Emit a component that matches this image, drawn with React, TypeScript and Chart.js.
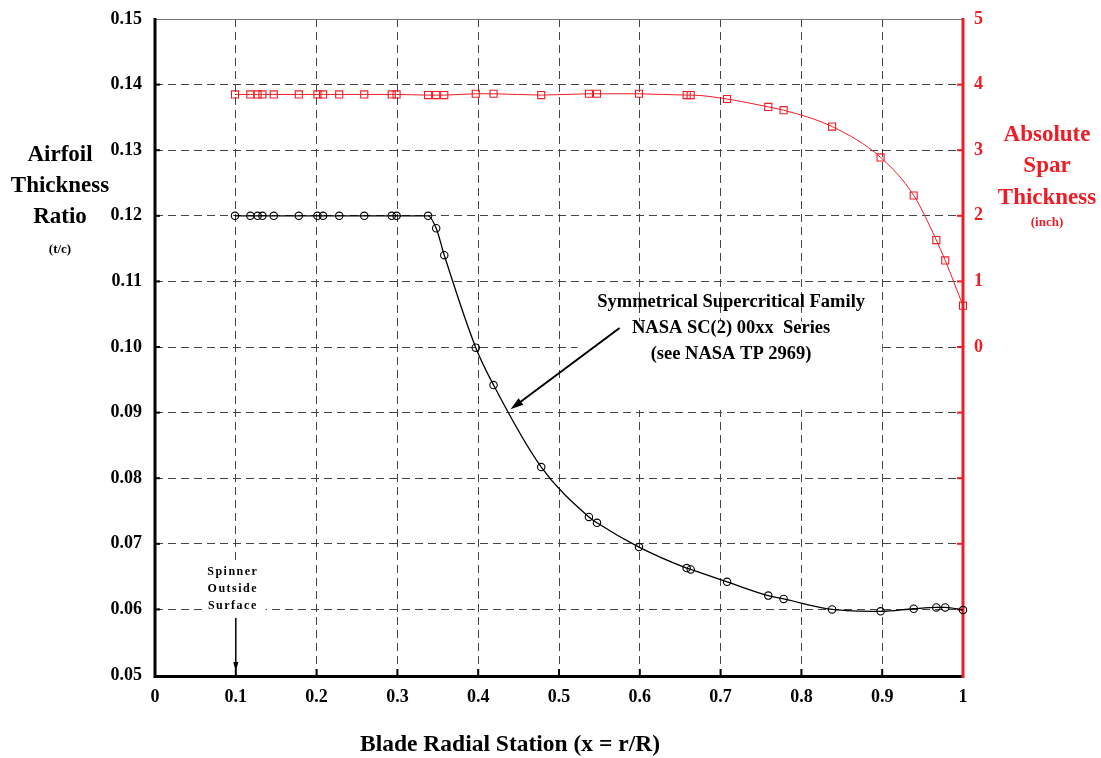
import React, { useEffect, useRef } from "react";
import { Chart, registerables } from "chart.js";

Chart.register(...registerables);

// Blade radial stations (x = r/R)
const stations = [0.099, 0.118, 0.127, 0.133, 0.147, 0.178, 0.201, 0.208, 0.228, 0.259, 0.293, 0.299, 0.338, 0.348, 0.358, 0.397, 0.419, 0.478, 0.537, 0.547, 0.599, 0.658, 0.663, 0.708, 0.759, 0.778, 0.838, 0.898, 0.939, 0.967, 0.978, 1.0];
// Airfoil thickness ratio t/c (left axis)
const thicknessRatio = [0.12, 0.12, 0.12, 0.12, 0.12, 0.12, 0.12, 0.12, 0.12, 0.12, 0.12, 0.12, 0.12, 0.1181, 0.114, 0.0999, 0.0942, 0.0817, 0.0741, 0.0732, 0.0695, 0.0663, 0.0661, 0.0642, 0.0621, 0.0616, 0.06, 0.0597, 0.0601, 0.0603, 0.0603, 0.0599];
// Absolute spar thickness, inch (right axis)
const sparThickness = [3.85, 3.85, 3.85, 3.85, 3.85, 3.85, 3.85, 3.85, 3.85, 3.85, 3.85, 3.85, 3.84, 3.84, 3.84, 3.86, 3.86, 3.84, 3.86, 3.86, 3.86, 3.84, 3.84, 3.78, 3.66, 3.61, 3.36, 2.89, 2.31, 1.63, 1.32, 0.63];

const leftTitle = ["Airfoil", "Thickness", "Ratio"];
const leftSub = "(t/c)";
const rightTitle = ["Absolute", "Spar", "Thickness"];
const rightSub = "(inch)";
const xTitle = "Blade Radial Station (x = r/R)";
const noteLines = ["Symmetrical Supercritical Family", "NASA SC(2) 00xx  Series", "(see NASA TP 2969)"];
const spinnerLines = ["Spinner", "Outside", "Surface"];

const RED = "#ee1c25";
const FONT = "'Times New Roman', 'Liberation Serif', serif";

function arrowHead(ctx: CanvasRenderingContext2D, x1: number, y1: number, x2: number, y2: number, len: number, half: number) {
  const a = Math.atan2(y2 - y1, x2 - x1);
  ctx.beginPath();
  ctx.moveTo(x2, y2);
  ctx.lineTo(x2 - len * Math.cos(a) + half * Math.sin(a), y2 - len * Math.sin(a) - half * Math.cos(a));
  ctx.lineTo(x2 - len * Math.cos(a) - half * Math.sin(a), y2 - len * Math.sin(a) + half * Math.cos(a));
  ctx.closePath();
  ctx.fill();
}

const decorPlugin = {
  id: "decor",
  beforeDatasetsDraw(chart: any) {
    const { ctx, chartArea: ca, scales } = chart;
    const xs = scales.x, yl = scales.y, yr = scales.y2;
    ctx.save();
    // white boxes behind the annotations
    ctx.fillStyle = "#fff";
    const bx1 = xs.getPixelForValue(0.523), bx2 = xs.getPixelForValue(0.9);
    const by1 = yl.getPixelForValue(0.1039), by2 = yl.getPixelForValue(0.0904);
    ctx.fillRect(bx1, by1, bx2 - bx1, by2 - by1);
    const sx1 = xs.getPixelForValue(0.058), sx2 = xs.getPixelForValue(0.137);
    const sy1 = yl.getPixelForValue(0.0671), sy2 = yl.getPixelForValue(0.0587);
    ctx.fillRect(sx1, sy1, sx2 - sx1, sy2 - sy1);
    // vertical grid line piece under the spinner arrow
    ctx.fillRect(xs.getPixelForValue(0.1) - 2, sy2, 4, ca.bottom - sy2);
    // top border
    ctx.strokeStyle = "#777";
    ctx.lineWidth = 1;
    ctx.beginPath();
    ctx.moveTo(ca.left, ca.top + 0.5);
    ctx.lineTo(ca.right, ca.top + 0.5);
    ctx.stroke();
    // right red ticks
    ctx.strokeStyle = RED;
    ctx.lineWidth = 2;
    for (let v = -4; v <= 4; v++) {
      const y = yr.getPixelForValue(v);
      ctx.beginPath();
      ctx.moveTo(ca.right - 6, y);
      ctx.lineTo(ca.right, y);
      ctx.stroke();
    }
    // bottom ticks
    ctx.strokeStyle = "#000";
    for (let i = 1; i <= 9; i++) {
      const x = xs.getPixelForValue(i / 10);
      ctx.beginPath();
      ctx.moveTo(x, ca.bottom);
      ctx.lineTo(x, ca.bottom - 6);
      ctx.stroke();
    }
    // left ticks
    for (let i = 6; i <= 14; i++) {
      const y = yl.getPixelForValue(i / 100);
      ctx.beginPath();
      ctx.moveTo(ca.left, y);
      ctx.lineTo(ca.left + 5, y);
      ctx.stroke();
    }
    // axis lines
    ctx.lineWidth = 3;
    ctx.strokeStyle = "#000";
    ctx.beginPath();
    ctx.moveTo(ca.left, ca.top - 1);
    ctx.lineTo(ca.left, ca.bottom + 1.5);
    ctx.lineTo(ca.right, ca.bottom + 1.5);
    ctx.stroke();
    ctx.strokeStyle = RED;
    ctx.beginPath();
    ctx.moveTo(ca.right, ca.top - 1);
    ctx.lineTo(ca.right, ca.bottom + 3);
    ctx.stroke();
    ctx.restore();
  },
  afterDraw(chart: any) {
    const { ctx, chartArea: ca, scales } = chart;
    const xs = scales.x, yl = scales.y;
    ctx.save();
    ctx.textAlign = "center";
    ctx.textBaseline = "middle";
    // left title
    ctx.fillStyle = "#000";
    ctx.font = `bold 23px ${FONT}`;
    leftTitle.forEach((t, i) => ctx.fillText(t, 60, 155 + i * 31));
    ctx.font = `bold 13px ${FONT}`;
    ctx.fillText(leftSub, 60, 250);
    // right title
    ctx.fillStyle = RED;
    ctx.font = `bold 23px ${FONT}`;
    rightTitle.forEach((t, i) => ctx.fillText(t, 1047, 135 + i * 31.5));
    ctx.font = `bold 13px ${FONT}`;
    ctx.fillText(rightSub, 1047, 223);
    // x title
    ctx.fillStyle = "#000";
    ctx.font = `bold 23.5px ${FONT}`;
    ctx.fillText(xTitle, 510, 745);
    // annotation
    ctx.font = `bold 18.5px ${FONT}`;
    const nx = xs.getPixelForValue(0.713);
    noteLines.forEach((t, i) => ctx.fillText(t, nx, yl.getPixelForValue(0.1) - 45 + i * 26));
    // annotation arrow
    ctx.strokeStyle = "#000";
    ctx.fillStyle = "#000";
    ctx.lineWidth = 2;
    const ax1 = xs.getPixelForValue(0.575), ay1 = yl.getPixelForValue(0.1029);
    const ax2 = xs.getPixelForValue(0.44), ay2 = yl.getPixelForValue(0.0905);
    const ang = Math.atan2(ay1 - ay2, ax1 - ax2);
    ctx.beginPath();
    ctx.moveTo(ax1, ay1);
    ctx.lineTo(ax2 + 8 * Math.cos(ang), ay2 + 8 * Math.sin(ang));
    ctx.stroke();
    arrowHead(ctx, ax1, ay1, ax2, ay2, 13, 4);
    // spinner note
    ctx.font = `bold 12px ${FONT}`;
    (ctx as any).letterSpacing = "1.5px";
    const sx = xs.getPixelForValue(0.1);
    spinnerLines.forEach((t, i) => ctx.fillText(t, sx - 3, yl.getPixelForValue(0.0657) + i * 17));
    (ctx as any).letterSpacing = "0px";
    ctx.lineWidth = 1.5;
    const sy2 = ca.bottom - 3;
    ctx.beginPath();
    ctx.moveTo(sx, yl.getPixelForValue(0.0587));
    ctx.lineTo(sx, sy2 - 6);
    ctx.stroke();
    arrowHead(ctx, sx, sy2 - 30, sx, sy2, 10, 2.5);
    ctx.restore();
  },
};

const noVPad = (s: any, w: number) => {
  s.width = w;
  s.paddingTop = 0;
  s.paddingBottom = 0;
};

export default function App() {
  const ref = useRef<HTMLCanvasElement | null>(null);
  useEffect(() => {
    if (!ref.current) return;
    const chart = new Chart(ref.current, {
      type: "line",
      data: {
        datasets: [
          {
            label: "t/c",
            data: stations.map((x, i) => ({ x, y: thicknessRatio[i] })),
            yAxisID: "y",
            borderColor: "#000",
            borderWidth: 1.3,
            pointStyle: "circle",
            pointRadius: 3.7,
            pointBorderWidth: 1.1,
            pointBorderColor: "#000",
            pointBackgroundColor: "rgba(0,0,0,0)",
            cubicInterpolationMode: "monotone",
            fill: false,
            clip: false,
          },
          {
            label: "spar",
            data: stations.map((x, i) => ({ x, y: sparThickness[i] })),
            yAxisID: "y2",
            borderColor: RED,
            borderWidth: 1,
            pointStyle: "rect",
            pointRadius: 5,
            pointBorderWidth: 1.1,
            pointBorderColor: RED,
            pointBackgroundColor: "rgba(0,0,0,0)",
            cubicInterpolationMode: "monotone",
            fill: false,
            clip: false,
          },
        ],
      },
      options: {
        animation: false,
        responsive: true,
        maintainAspectRatio: false,
        layout: { padding: { top: 19, left: 0, right: 0, bottom: 0 } },
        plugins: { legend: { display: false }, tooltip: { enabled: false } },
        scales: {
          x: {
            type: "linear",
            min: 0,
            max: 1,
            afterFit: (s: any) => { s.height = 83; s.paddingLeft = 0; s.paddingRight = 0; },
            ticks: {
              stepSize: 0.1,
              padding: 12,
              color: "#000",
              font: { family: FONT, size: 18, weight: "bold" },
              callback: (v: any) => (v === 0 ? "0" : v === 1 ? "1" : Number(v).toFixed(1)),
            },
            grid: {
              drawTicks: false,
              color: (c: any) => (c.tick && (c.tick.value <= 0.001 || c.tick.value >= 0.999) ? "rgba(0,0,0,0)" : "#444"),
              lineWidth: 1,
            },
            border: { display: false, dash: [8, 5] },
          },
          y: {
            type: "linear",
            position: "left",
            min: 0.05,
            max: 0.15,
            afterFit: (s: any) => noVPad(s, 155),
            ticks: {
              stepSize: 0.01,
              padding: 13,
              color: "#000",
              font: { family: FONT, size: 18, weight: "bold" },
              callback: (v: any) => Number(v).toFixed(2),
            },
            grid: {
              drawTicks: false,
              color: (c: any) => (c.tick && (c.tick.value <= 0.0501 || c.tick.value >= 0.1499) ? "rgba(0,0,0,0)" : "#444"),
              lineWidth: 1,
            },
            border: { display: false, dash: [8, 5] },
          },
          y2: {
            type: "linear",
            position: "right",
            min: -5,
            max: 5,
            afterFit: (s: any) => noVPad(s, 138),
            ticks: {
              stepSize: 1,
              padding: 11,
              color: RED,
              font: { family: FONT, size: 18, weight: "bold" },
              callback: (v: any) => (Number(v) >= 0 ? String(v) : ""),
            },
            grid: { drawOnChartArea: false, drawTicks: false },
            border: { display: false },
          },
        },
      },
      plugins: [decorPlugin],
    } as any);
    return () => chart.destroy();
  }, []);
  return (
    <div style={{ position: "fixed", left: 0, top: 0, width: 1101, height: 758, background: "#fff" }}>
      <canvas ref={ref} />
    </div>
  );
}
